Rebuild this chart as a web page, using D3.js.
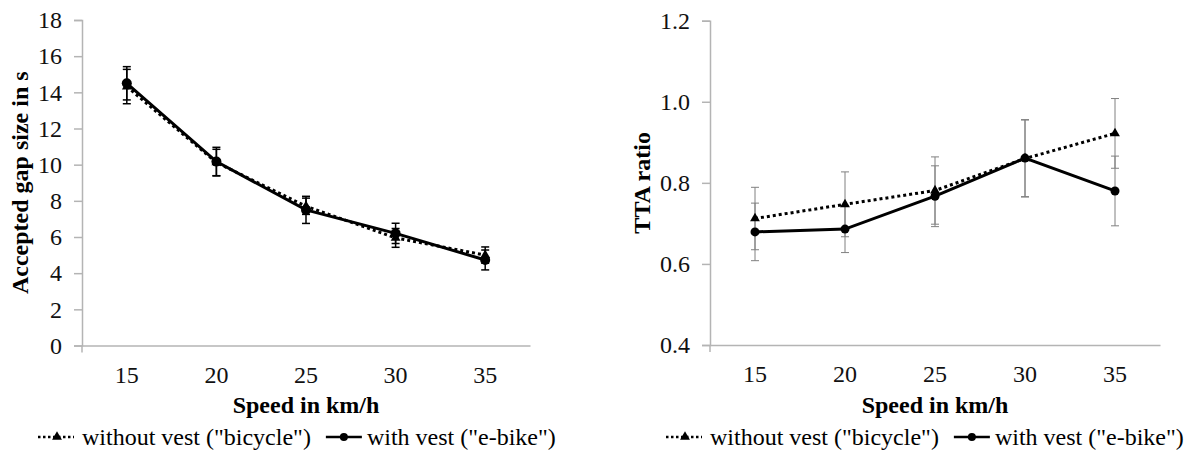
<!DOCTYPE html>
<html>
<head>
<meta charset="utf-8">
<script src="https://cdn.jsdelivr.net/npm/d3@7"></script>
<style>
  body { margin: 0; background: #fff; }
</style>
</head>
<body>
<div id="chart"></div>
<script>
// speeds on the x axis
var speeds = [15, 20, 25, 30, 35];

// left panel: accepted gap size (s)
var gapWithout = [14.32, 10.12, 7.7, 5.95, 5.0];
var gapWithoutErr = [0.95, 0.73, 0.45, 0.52, 0.45];
var gapWith = [14.5, 10.17, 7.5, 6.2, 4.73];
var gapWithErr = [0.92, 0.79, 0.75, 0.56, 0.55];
var gapTicks = [0, 2, 4, 6, 8, 10, 12, 14, 16, 18];

// right panel: TTA ratio
var ttaWithout = [0.712, 0.747, 0.781, 0.86, 0.922];
var ttaWithoutErr = [0.077, 0.08, 0.083, 0.095, 0.086];
var ttaWith = [0.679, 0.686, 0.767, 0.861, 0.78];
var ttaWithErr = [0.071, 0.058, 0.075, 0.095, 0.086];
var ttaTicks = [0.4, 0.6, 0.8, 1.0, 1.2];

var seriesNames = ['without vest ("bicycle")', 'with vest ("e-bike")'];

const WIDTH = 1197, HEIGHT = 457;
const SERIF = '"Liberation Serif", "Times New Roman", serif';
var svg = d3.select("#chart").append("svg")
    .attr("width", WIDTH)
    .attr("height", HEIGHT);

var triangle = d3.symbol().type(d3.symbolTriangle).size(42);

function drawPanel(opt) {
    var g = svg.append("g");
    var x = d3.scaleBand().domain(speeds).range([opt.left, opt.right]);
    var y = d3.scaleLinear().domain(opt.domain).range([opt.bottom, opt.top]);
    var cx = function(i) { return x(speeds[i]) + x.bandwidth() / 2; };

    // y axis
    var yAxis = g.append("g")
        .attr("transform", "translate(" + opt.left + ",0)")
        .call(d3.axisLeft(y).tickValues(opt.ticks).tickSize(8).tickPadding(12)
            .tickFormat(opt.fmt));
    yAxis.select(".domain").attr("stroke", "#b4b4b4").attr("stroke-width", 1.5);
    yAxis.selectAll(".tick line").attr("stroke", "#b4b4b4").attr("stroke-width", 1.5);
    yAxis.selectAll(".tick text").attr("fill", "#111")
        .style("font-family", SERIF).style("font-size", "24px");

    // x axis (categories sit between boundaries, like the original)
    var xAxis = g.append("g")
        .attr("transform", "translate(0," + opt.bottom + ")")
        .call(d3.axisBottom(x).tickSize(0).tickPadding(20).tickSizeOuter(0));
    xAxis.select(".domain").attr("stroke", "#b4b4b4").attr("stroke-width", 1.5);
    xAxis.selectAll(".tick text").attr("fill", "#111")
        .style("font-family", SERIF).style("font-size", "24px");
    g.append("line")
        .attr("x1", opt.left).attr("x2", opt.left)
        .attr("y1", opt.bottom).attr("y2", opt.bottom + 7)
        .attr("stroke", "#b4b4b4").attr("stroke-width", 1.5);

    // axis titles
    g.append("text")
        .attr("x", (opt.left + opt.right) / 2).attr("y", 413)
        .attr("text-anchor", "middle")
        .style("font-family", SERIF).style("font-size", "24px").style("font-weight", "bold")
        .text("Speed in km/h");
    g.append("text")
        .attr("transform", "translate(" + opt.labelX + "," + (opt.top + opt.bottom) / 2 + ") rotate(-90)")
        .attr("text-anchor", "middle")
        .style("font-family", SERIF).style("font-size", "24px").style("font-weight", "bold")
        .text(opt.label);

    // error bars
    var series = [
        { vals: opt.without, err: opt.withoutErr },
        { vals: opt.with, err: opt.withErr }
    ];
    series.forEach(function(s) {
        var eb = g.append("g").attr("stroke", opt.errColor).attr("stroke-width", opt.errWidth);
        s.vals.forEach(function(v, i) {
            var hi = y(v + s.err[i]), lo = y(v - s.err[i]);
            eb.append("line").attr("x1", cx(i)).attr("x2", cx(i)).attr("y1", hi).attr("y2", lo);
            eb.append("line").attr("x1", cx(i) - 4).attr("x2", cx(i) + 4).attr("y1", hi).attr("y2", hi);
            eb.append("line").attr("x1", cx(i) - 4).attr("x2", cx(i) + 4).attr("y1", lo).attr("y2", lo);
        });
    });

    var line = d3.line().x(function(d, i) { return cx(i); }).y(function(d) { return y(d); });

    // without vest: dotted + triangles
    g.append("path").datum(opt.without)
        .attr("d", line).attr("fill", "none").attr("stroke", "#000")
        .attr("stroke-width", 3).attr("stroke-dasharray", "3,3");
    g.selectAll(null).data(opt.without).enter().append("path")
        .attr("d", triangle)
        .attr("transform", function(d, i) { return "translate(" + cx(i) + "," + y(d) + ")"; })
        .attr("fill", "#000");

    // with vest: solid + circles
    g.append("path").datum(opt.with)
        .attr("d", line).attr("fill", "none").attr("stroke", "#000")
        .attr("stroke-width", 3);
    g.selectAll(null).data(opt.with).enter().append("circle")
        .attr("cx", function(d, i) { return cx(i); })
        .attr("cy", function(d) { return y(d); })
        .attr("r", opt.r).attr("fill", "#000");

    // legend
    var lg = g.append("g").attr("transform", "translate(" + (opt.left - 44) + ",437)");
    lg.append("line").attr("x1", 0).attr("x2", 36).attr("y1", 0).attr("y2", 0)
        .attr("stroke", "#000").attr("stroke-width", 2.5).attr("stroke-dasharray", "2.5,2.5");
    lg.append("path").attr("d", triangle).attr("transform", "translate(19,0)").attr("fill", "#000");
    var t1 = lg.append("text").attr("x", 44).attr("y", 8)
        .style("font-family", SERIF).style("font-size", "24px").text(seriesNames[0]);
    var x2 = 44 + t1.node().getComputedTextLength() + 15;
    lg.append("line").attr("x1", x2).attr("x2", x2 + 36).attr("y1", 0).attr("y2", 0)
        .attr("stroke", "#000").attr("stroke-width", 2.5);
    lg.append("circle").attr("cx", x2 + 18).attr("cy", 0).attr("r", 4).attr("fill", "#000");
    lg.append("text").attr("x", x2 + 41).attr("y", 8)
        .style("font-family", SERIF).style("font-size", "24px").text(seriesNames[1]);
}

drawPanel({
    left: 82, right: 530, top: 20, bottom: 345.5,
    domain: [0, 18], ticks: gapTicks, fmt: d3.format("d"),
    label: "Accepted gap size in s", labelX: 28,
    without: gapWithout, withoutErr: gapWithoutErr,
    with: gapWith, withErr: gapWithErr,
    errColor: "#000", errWidth: 1.5, r: 5
});

drawPanel({
    left: 710, right: 1160, top: 20.7, bottom: 345,
    domain: [0.4, 1.2], ticks: ttaTicks, fmt: d3.format(".1f"),
    label: "TTA ratio", labelX: 650,
    without: ttaWithout, withoutErr: ttaWithoutErr,
    with: ttaWith, withErr: ttaWithErr,
    errColor: "#808080", errWidth: 1, r: 4.5
});
</script>
</body>
</html>
